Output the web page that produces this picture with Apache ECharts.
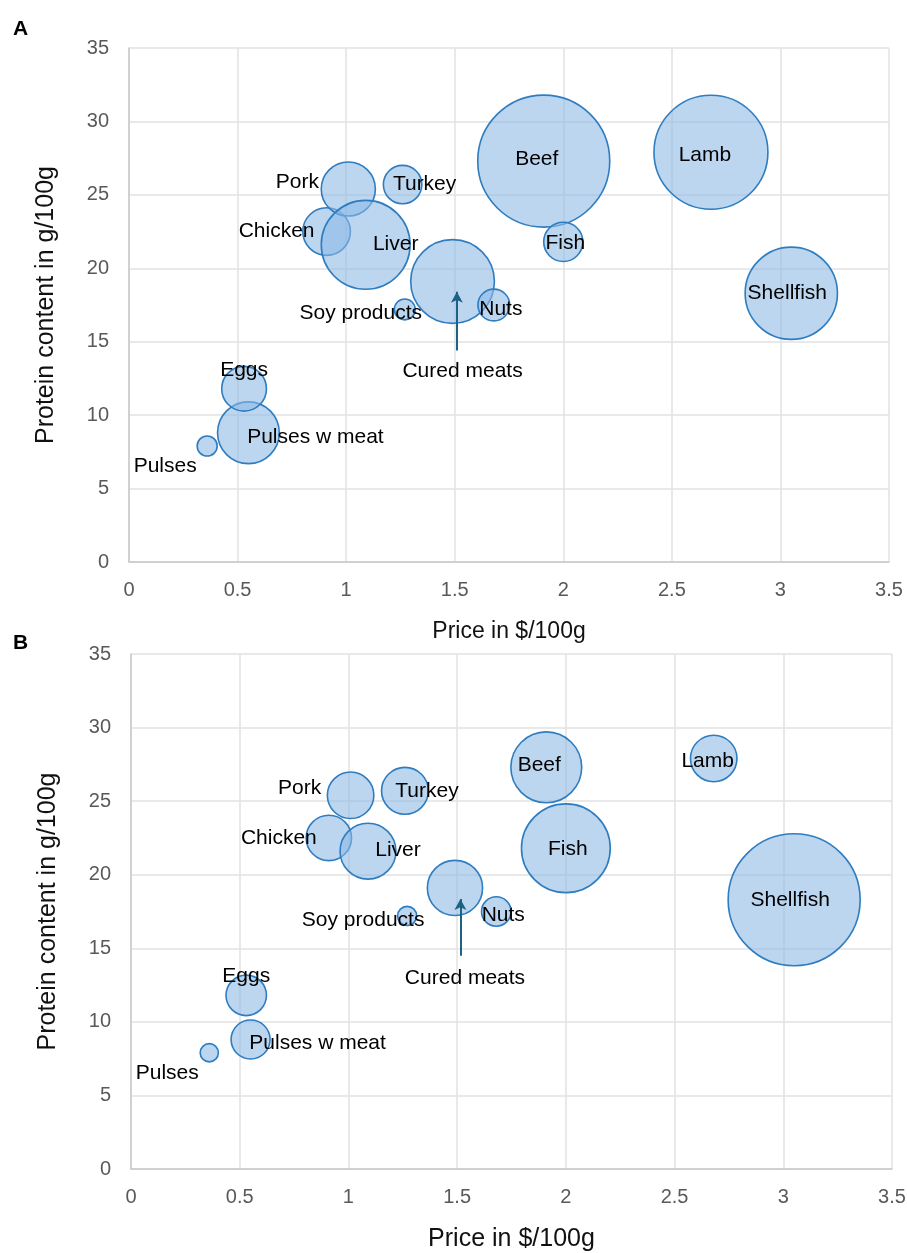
<!DOCTYPE html>
<html>
<head>
<meta charset="utf-8">
<script src="https://cdn.jsdelivr.net/npm/echarts@6/dist/echarts.min.js"></script>
<style>
  html, body { margin: 0; padding: 0; background: #fff; }
  #chart { width: 907px; height: 1253px; }
</style>
</head>
<body>
<div id="chart"></div>
<script>
// foods, price ($/100g), protein (g/100g)
var foods = ['Pulses', 'Pulses w meat', 'Eggs', 'Chicken', 'Pork', 'Liver', 'Turkey',
  'Soy products', 'Cured meats', 'Nuts', 'Beef', 'Fish', 'Lamb', 'Shellfish']
var price = [0.36, 0.55, 0.53, 0.91, 1.01, 1.09, 1.26, 1.27, 1.49, 1.68, 1.91, 2.00, 2.68, 3.05]
var protein = [7.9, 8.8, 11.8, 22.5, 25.4, 21.6, 25.7, 17.2, 19.1, 17.5, 27.3, 21.8, 27.9, 18.3]
// bubble size (relative, largest = 100), panel A and panel B
var sizeA = [2.3, 21.9, 11.5, 13.0, 16.8, 45.3, 8.5, 2.5, 40.2, 5.8, 100, 8.8, 74.5, 48.9]
var sizeB = [1.9, 8.7, 9.4, 11.8, 12.4, 17.9, 12.6, 2.1, 17.5, 5.0, 28.8, 45.2, 12.4, 100]
// arrow pointing to cured meats: [x, yFrom, yTo]
var arrowA = [1.51, 14.4, 18.4]
var arrowB = [1.515, 14.5, 18.35]

var xTicks = { min: 0, max: 3.5, interval: 0.5 }
var yTicks = { min: 0, max: 35, interval: 5 }

// where each label sits relative to its bubble (px)
var labelOffset = {
  'Pulses': [-42, 20],
  'Pulses w meat': [67, 4],
  'Eggs': [0, -19],
  'Chicken': [-50, 0],
  'Pork': [-51, -7],
  'Liver': [30, -1],
  'Turkey': [22, 0],
  'Soy products': [-44, 4],
  'Cured meats': [10, 90],
  'Nuts': [7, 4],
  'Beef': [-7, -2],
  'Fish': [2, 1],
  'Lamb': [-6, 3],
  'Shellfish': [-4, 0]
}

var FONT = 'Liberation Sans'
var maxDiameter = 132

function bubbles (sizes) {
  return foods.map(function (name, i) {
    return { name: name, value: [price[i], protein[i], sizes[i]] }
  })
}

function xAxis (idx, nameSize) {
  return {
    gridIndex: idx,
    type: 'value',
    min: xTicks.min,
    max: xTicks.max,
    interval: xTicks.interval,
    name: 'Price in $/100g',
    nameLocation: 'middle',
    nameGap: 58,
    nameTextStyle: { fontFamily: FONT, fontSize: nameSize, color: '#111' },
    axisLine: { show: true, onZero: false, lineStyle: { color: '#c8c8c8', width: 1.5 } },
    axisTick: { show: false },
    axisLabel: { fontFamily: FONT, fontSize: 20, color: '#595959', margin: 18 },
    splitLine: { show: true, lineStyle: { color: '#e2e2e2', width: 1.5 } }
  }
}

function yAxis (idx) {
  return {
    gridIndex: idx,
    type: 'value',
    min: yTicks.min,
    max: yTicks.max,
    interval: yTicks.interval,
    name: 'Protein content in g/100g',
    nameLocation: 'middle',
    nameGap: 70,
    nameTextStyle: { fontFamily: FONT, fontSize: 25, color: '#111' },
    axisLine: { show: true, onZero: false, lineStyle: { color: '#c8c8c8', width: 1.5 } },
    axisTick: { show: false },
    axisLabel: { fontFamily: FONT, fontSize: 20, color: '#595959', margin: 20 },
    splitLine: { show: true, lineStyle: { color: '#e2e2e2', width: 1.5 } }
  }
}

function series (idx, sizes, arrow) {
  return {
    type: 'scatter',
    xAxisIndex: idx,
    yAxisIndex: idx,
    data: bubbles(sizes),
    symbolSize: function (v) {
      return maxDiameter * Math.sqrt(v[2] / 100)
    },
    itemStyle: {
      color: 'rgba(140, 185, 230, 0.58)',
      borderColor: '#2e7dc0',
      borderWidth: 1.6,
      opacity: 1
    },
    label: {
      show: true,
      position: 'inside',
      formatter: '{b}',
      fontFamily: FONT,
      fontSize: 21,
      color: '#000'
    },
    labelLayout: function (params) {
      var off = labelOffset[foods[params.dataIndex]] || [0, 0]
      return { dx: off[0], dy: off[1], hideOverlap: false }
    },
    emphasis: { disabled: true },
    markLine: {
      silent: true,
      symbol: ['none', 'arrow'],
      symbolSize: [9, 11],
      label: { show: false },
      lineStyle: { color: '#1d6285', width: 2, type: 'solid' },
      data: [[{ coord: [arrow[0], arrow[1]] }, { coord: [arrow[0], arrow[2]] }]]
    }
  }
}

var myChart = echarts.init(document.getElementById('chart'))
var option = {
  backgroundColor: '#fff',
  animation: false,
  title: [
    { text: 'A', left: 8, top: 14, textStyle: { fontFamily: FONT, fontSize: 21, fontWeight: 'bold', color: '#000' } },
    { text: 'B', left: 8, top: 628, textStyle: { fontFamily: FONT, fontSize: 21, fontWeight: 'bold', color: '#000' } }
  ],
  grid: [
    { left: 129, right: 18, top: 48, bottom: 691, outerBoundsMode: 'none' },
    { left: 131, right: 15, top: 654, bottom: 84, outerBoundsMode: 'none' }
  ],
  xAxis: [xAxis(0, 23), xAxis(1, 25)],
  yAxis: [yAxis(0), yAxis(1)],
  series: [series(0, sizeA, arrowA), series(1, sizeB, arrowB)]
}
myChart.setOption(option, true)
</script>
</body>
</html>
